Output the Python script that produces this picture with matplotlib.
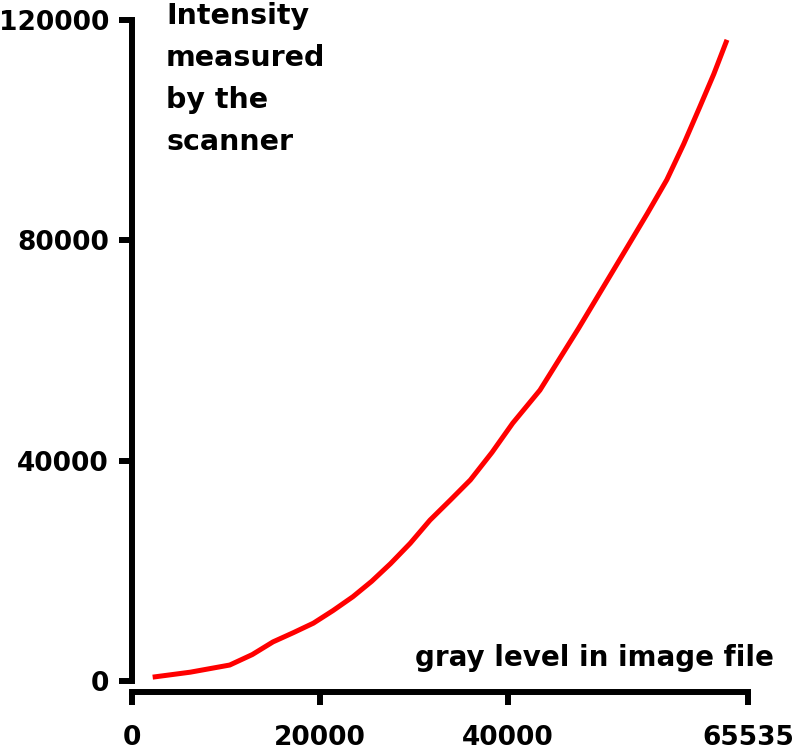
import matplotlib.pyplot as plt

# gray level in image file vs intensity measured by the scanner
gray_level = [2200, 6200, 10400, 12800, 15000, 17200, 19300, 21400, 23500,
              25500, 27500, 29600, 31700, 33900, 36000, 38300, 40500, 43400,
              47500, 50100, 52700, 54800, 56900, 58700, 60400, 61900, 63300]
intensity = [700, 1600, 2900, 4800, 7100, 8800, 10500, 12800, 15300,
             18100, 21300, 25000, 29200, 32900, 36500, 41500, 46800, 52800,
             64000, 71400, 78800, 84800, 91000, 97500, 104200, 110200, 116400]

x_ticks = [0, 20000, 40000, 65535]
y_ticks = [0, 40000, 80000, 120000]

W, H = 793, 752
fig = plt.figure(figsize=(W / 100, H / 100), dpi=100)
ax = fig.add_axes([132 / W, (H - 681) / H, 616 / W, 661 / H])

ax.plot(gray_level, intensity, color="#ff0000", lw=3.6, solid_capstyle="butt",
        solid_joinstyle="round", clip_on=False)

ax.set_xlim(0, 65535)
ax.set_ylim(0, 120000)
ax.set_xticks(x_ticks)
ax.set_xticklabels([str(v) for v in x_ticks])
ax.set_yticks(y_ticks)
ax.set_yticklabels([str(v) for v in y_ticks])

for side in ("top", "right"):
    ax.spines[side].set_visible(False)
for side in ("left", "bottom"):
    ax.spines[side].set_linewidth(4.3)
ax.spines["bottom"].set_position(("outward", 8))

ax.tick_params(axis="both", direction="out", length=9.5, width=4.3, color="black")
ax.tick_params(axis="x", pad=14)
ax.tick_params(axis="y", pad=7)
for lab in ax.get_xticklabels() + ax.get_yticklabels():
    lab.set_fontsize(19)
    lab.set_fontweight("bold")

fig.text(166 / W, 1 - 2 / H, "Intensity\nmeasured\nby the\nscanner",
         ha="left", va="top", fontsize=20.5, fontweight="bold", linespacing=1.63)
fig.text(774 / W, 1 - 666 / H, "gray level in image file",
         ha="right", va="baseline", fontsize=20, fontweight="bold")

fig.savefig("out.png", dpi=100)
